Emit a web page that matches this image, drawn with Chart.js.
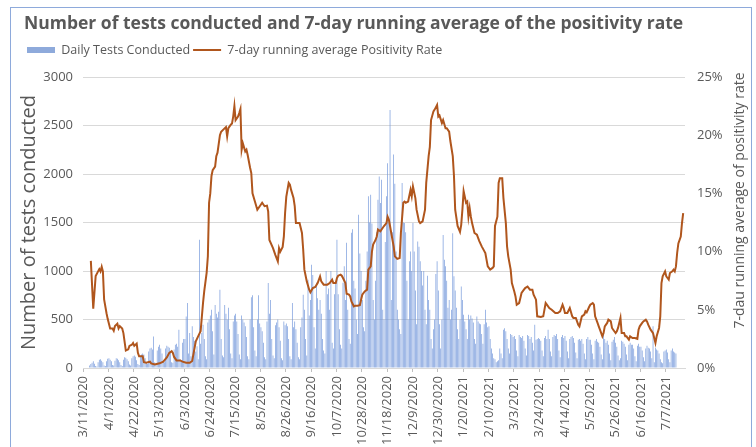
<!DOCTYPE html>
<html><head><meta charset="utf-8">
<script src="https://cdn.jsdelivr.net/npm/chart.js@4.4.1/dist/chart.umd.min.js"></script>
<style>html,body{margin:0;padding:0;background:#fff;}#wrap{width:756px;height:447px;}</style>
</head><body><div id="wrap"><canvas id="c" width="756" height="447"></canvas></div>
<script>
const chartTitle = 'Number of tests conducted and 7-day running average of the positivity rate';
const seriesNames = ['Daily Tests Conducted', '7-day running average Positivity Rate'];
const leftAxisTitle = 'Number of tests conducted';
const rightAxisTitle = '7-dau running average of positivity rate';
const firstDate = [2020, 3, 11];
const dayCount = 499;
const tickLabels = ['3/11/2020','4/1/2020','4/22/2020','5/13/2020','6/3/2020','6/24/2020','7/15/2020','8/5/2020','8/26/2020','9/16/2020','10/7/2020','10/28/2020','11/18/2020','12/9/2020','12/30/2020','1/20/2021','2/10/2021','3/3/2021','3/24/2021','4/14/2021','5/5/2021','5/26/2021','6/16/2021','7/7/2021'];
const leftTicks = [0, 500, 1000, 1500, 2000, 2500, 3000];
const rightTicks = [0, 5, 10, 15, 20, 25];

// daily tests, one row per week (Wed..Tue), starting 3/11/2020
const dailyTests = [
0,0,0,0,0,25,40,
55,70,45,20,15,60,85,
90,75,60,25,20,70,95,
100,85,70,30,25,75,100,
95,80,60,30,20,85,110,
105,90,70,35,25,100,120,
130,115,80,40,30,120,140,
150,140,100,50,40,170,200,
210,190,326,60,50,180,220,
240,200,150,70,60,200,230,
220,210,170,60,55,190,240,
250,220,395,90,70,260,300,
300,532,670,150,360,120,430,
320,280,170,223,90,1323,250,
360,445,300,120,90,470,500,
540,600,380,140,650,560,520,
580,807,300,130,110,650,560,
500,620,400,150,100,480,540,
560,480,350,140,90,540,500,
470,430,320,120,90,500,730,
750,420,180,120,500,750,460,
420,380,260,110,90,480,876,
560,700,300,130,100,440,470,
500,420,280,100,80,480,440,
460,430,300,120,90,670,420,
480,400,260,110,90,420,520,
755,600,300,130,910,540,700,
1065,960,420,200,880,720,600,
700,560,300,180,150,1000,760,
820,600,1000,260,200,760,880,
1323,760,400,240,200,880,1050,
700,1290,600,300,250,1395,1430,
900,820,500,350,1580,1180,1000,
700,420,380,900,1200,1770,1500,
1785,1490,700,500,900,1400,1735,
1975,1700,1940,600,500,1300,1770,
2110,1500,2660,700,1400,2200,1900,
1200,600,500,400,350,1906,1500,
1495,1400,900,500,1100,1200,1000,
1495,1200,800,450,1305,1250,1100,
1000,850,1000,600,450,950,700,
600,300,200,400,500,970,1100,
800,450,200,500,1370,1115,1050,
900,620,700,500,600,1390,945,
800,620,400,300,500,840,700,
550,480,400,300,550,500,540,
510,470,300,250,532,480,460,
450,350,250,450,600,470,420,
430,300,200,150,100,90,60,
70,80,200,150,100,395,410,
380,300,200,150,350,340,320,
330,300,180,120,340,320,310,
330,280,200,130,340,330,300,
320,260,180,445,290,300,310,
300,280,180,120,310,330,300,
395,300,170,120,320,340,330,
350,300,180,110,320,340,310,
330,280,170,100,300,320,330,
310,260,160,100,290,300,280,
300,250,150,90,300,320,290,
290,240,150,90,280,300,270,
260,220,140,90,370,300,260,
280,240,150,80,270,290,320,
260,220,130,80,100,280,270,
250,220,140,80,240,260,240,
240,200,120,70,230,250,220,
220,180,110,70,200,230,210,
200,170,100,430,60,210,190,
180,150,90,60,50,170,180,
190,160,90,60,180,200,170,
160,150
];

// 7-day running average positivity rate (%), read at these day offsets from 3/11/2020
const rateDays = [6,8,10,12,13,14,15,16,17,19,20,22,24,25,26,28,29,30,32,33,35,37,38,40,41,42,44,45,46,49,50,52,55,56,59,63,66,69,71,73,74,75,77,80,82,85,88,90,93,96,97,99,100,102,103,104,105,106,107,109,110,111,113,114,116,118,119,120,122,123,124,125,126,128,129,130,131,132,134,135,136,138,139,140,142,144,146,148,150,152,153,154,157,159,161,162,163,165,166,167,168,170,171,172,174,175,176,179,181,182,183,185,187,188,190,192,194,196,197,199,202,204,206,207,209,210,211,213,214,215,217,218,220,221,222,224,225,227,229,230,231,233,235,236,238,239,240,242,243,244,246,247,249,251,252,253,254,255,257,258,260,262,263,265,266,267,269,271,272,273,275,276,278,279,281,283,284,286,287,288,290,291,293,294,295,297,298,300,301,303,304,306,307,308,310,312,313,314,315,317,318,319,320,321,322,324,326,328,330,333,335,337,339,340,341,343,344,345,347,348,350,351,352,354,355,357,358,359,361,362,363,365,366,368,369,370,372,373,375,376,379,381,383,384,386,388,391,393,395,397,398,399,401,403,405,406,408,410,411,413,415,416,417,419,420,422,423,424,426,427,428,430,431,432,434,435,437,438,439,441,442,443,445,446,448,449,450,452,453,455,457,459,460,461,463,464,466,467,468,470,471,472,474,475,477,478,479,480,482,483,484,485,486,488,489,490,491,492,493,495,496,497];
const rateValues = [9.2,5.1,7.9,8.3,8.5,8.3,8.7,8.3,5.9,4.7,4.2,3.4,3.4,3.2,3.6,3.8,3.4,3.6,3.4,3.0,1.5,1.6,1.9,2.0,2.15,1.9,2.1,1.3,1.0,1.0,0.5,0.45,0.55,0.4,0.3,0.4,0.55,0.9,1.3,1.45,1.3,0.95,0.65,0.65,0.55,0.45,0.45,0.6,2.3,2.95,3.15,5.6,6.6,8.2,9.6,14.2,15.0,16.5,17.0,17.3,18.2,18.5,20.0,20.3,20.5,20.7,19.9,20.6,20.9,21.0,21.6,22.5,21.3,21.6,21.9,22.25,18.75,19.3,18.6,18.75,18.3,17.2,16.75,15.0,14.3,13.6,13.9,14.2,13.9,13.95,13.45,11.0,10.3,9.7,9.16,10.3,10.0,10.4,11.3,13.3,14.7,15.9,15.75,15.3,14.6,13.9,12.45,12.45,11.6,10.2,8.45,7.44,6.73,6.5,6.87,6.96,7.3,7.87,7.44,7.16,7.16,7.3,7.59,7.3,7.3,7.73,7.93,8.02,7.93,7.73,7.3,6.38,6.3,6.15,5.72,5.3,5.35,5.35,5.4,5.87,6.3,6.58,6.73,8.45,8.73,10.0,10.6,11.0,11.3,11.9,11.74,11.9,12.2,12.45,13.0,12.75,12.2,11.6,10.45,9.59,9.37,9.45,11.6,14.2,14.3,14.2,14.3,15.3,14.75,15.6,14.6,13.6,12.6,12.45,12.6,13.6,15.9,18.2,19.0,21.3,22.05,22.2,22.6,21.6,21.7,21.05,21.3,20.6,20.6,20.3,19.5,18.2,16.5,13.6,12.2,11.7,12.3,13.6,15.2,14.2,14.3,13.0,13.75,13.0,12.45,11.6,11.45,10.9,10.45,9.88,8.73,8.45,8.6,8.73,12.2,13.0,15.9,16.3,16.3,14.6,12.45,10.45,9.59,8.45,7.3,6.58,6.15,5.44,5.58,6.0,6.44,6.73,6.87,7.0,6.87,6.73,6.73,6.3,5.87,4.44,4.38,4.44,5.58,5.44,5.15,5.0,4.72,4.72,4.87,5.44,5.15,4.72,4.72,5.15,4.44,4.3,4.3,3.72,3.58,4.44,4.58,4.87,4.78,5.24,5.44,5.58,5.44,4.44,3.87,3.58,3.29,2.72,3.0,3.58,3.87,4.15,4.0,3.44,3.29,3.0,3.15,3.44,4.3,3.0,3.0,2.72,2.72,2.43,2.72,2.58,2.58,2.5,3.29,3.58,3.87,4.0,4.15,4.0,3.72,3.29,3.15,3.0,2.15,2.72,3.44,4.44,7.3,7.87,8.3,7.87,7.73,7.59,8.16,8.3,8.45,8.3,8.73,9.88,10.7,11.3,12.45,13.3];

const barColor = '#6f94d9';
const legendBarColor = '#8eaadb';
const lineColor = '#b0561d';
const textColor = '#595959';
const gridColor = '#d9d9d9';
const fontFamily = "'Open Sans', sans-serif";

const categories = [];
for (let i = 0; i < dayCount; i++) {
  const dt = new Date(firstDate[0], firstDate[1] - 1, firstDate[2] + i);
  categories.push((dt.getMonth() + 1) + '/' + dt.getDate() + '/' + dt.getFullYear());
}
const isTickDay = i => tickLabels.includes(categories[i]);

const framePlugin = {
  id: 'frame',
  beforeDraw(chart) {
    const ctx = chart.ctx;
    ctx.save();
    ctx.fillStyle = '#ffffff';
    ctx.fillRect(0, 0, chart.width, chart.height);
    ctx.strokeStyle = '#8eaadb';
    ctx.lineWidth = 1;
    ctx.strokeRect(10.5, 7.5, 741, 450);
    ctx.restore();
  }
};
const rightTitlePlugin = {
  id: 'rightTitle',
  afterDraw(chart) {
    const ctx = chart.ctx;
    const a = chart.chartArea;
    ctx.save();
    ctx.translate(740, (a.top + a.bottom) / 2 - 22);
    ctx.rotate(-Math.PI / 2);
    ctx.font = "14px 'Open Sans'";
    ctx.fillStyle = textColor;
    ctx.textAlign = 'center';
    ctx.textBaseline = 'middle';
    ctx.fillText(rightAxisTitle, 0, 0);
    ctx.restore();
  }
};

new Chart(document.getElementById('c'), {
  type: 'bar',
  data: {
    labels: categories,
    datasets: [
      { type: 'bar', label: seriesNames[0], data: dailyTests, backgroundColor: barColor,
        yAxisID: 'y', xAxisID: 'x', barPercentage: 0.55, categoryPercentage: 1, order: 2 },
      { type: 'line', label: seriesNames[1],
        data: rateDays.map((d, i) => ({ x: categories[d], y: rateValues[i] })),
        borderColor: lineColor, borderWidth: 2, pointRadius: 0, tension: 0,
        fill: false, yAxisID: 'y1', xAxisID: 'x', order: 1 }
    ]
  },
  options: {
    responsive: false, animation: false, devicePixelRatio: 1,
    layout: { padding: { left: 24, right: 10, top: 4, bottom: 0 } },
    plugins: {
      title: { display: true, text: chartTitle, align: 'start', color: textColor,
        font: { family: fontFamily, size: 17.5, weight: 'bold' }, padding: { top: 9.5, bottom: 6.25 } },
      legend: { display: true, position: 'top', align: 'start',
        labels: { usePointStyle: true, pointStyleWidth: 28, boxHeight: 6, padding: 3,
          color: textColor, font: { family: fontFamily, size: 12.5 },
          generateLabels: () => [
            { text: seriesNames[0], fillStyle: legendBarColor, strokeStyle: legendBarColor, lineWidth: 0, pointStyle: 'rect', hidden: false, datasetIndex: 0, fontColor: textColor },
            { text: seriesNames[1], fillStyle: lineColor, strokeStyle: lineColor, lineWidth: 2, pointStyle: 'line', hidden: false, datasetIndex: 1, fontColor: textColor }
          ] } },
      tooltip: { enabled: false }
    },
    scales: {
      x: {
        type: 'category', offset: true, position: 'bottom',
        grid: { display: true, drawOnChartArea: false, drawTicks: true, tickLength: 4, offset: true,
          color: c => isTickDay(c.index) ? '#bfbfbf' : 'rgba(0,0,0,0)',
          tickColor: c => isTickDay(c.index) ? '#bfbfbf' : 'rgba(0,0,0,0)' },
        border: { display: true, color: gridColor },
        ticks: { autoSkip: false, maxRotation: 90, minRotation: 90, padding: 4, color: textColor,
          font: { family: fontFamily, size: 13 },
          callback: function (v) { const l = categories[v]; return tickLabels.includes(l) ? l : ''; } },
        afterFit: s => { s.height = 79; }
      },
      xTop: {
        type: 'category', position: 'top', display: true,
        grid: { display: false, drawTicks: false }, border: { display: false },
        ticks: { display: false },
        afterFit: s => { s.height = 10.75; }
      },
      y: {
        type: 'linear', position: 'left', min: 0, max: 3000,
        afterBuildTicks: s => { s.ticks = leftTicks.map(v => ({ value: v })); },
        ticks: { color: textColor, font: { family: fontFamily, size: 13 }, padding: 10,
          callback: v => String(v) },
        grid: { color: gridColor, drawTicks: false },
        border: { display: false },
        title: { display: true, text: leftAxisTitle, color: textColor,
          font: { family: fontFamily, size: 20 }, padding: { top: -7, bottom: 0 } },
        afterFit: s => { s.width = 59; }
      },
      y1: {
        type: 'linear', position: 'right', min: 0, max: 25,
        afterBuildTicks: s => { s.ticks = rightTicks.map(v => ({ value: v })); },
        ticks: { color: textColor, font: { family: fontFamily, size: 13 }, padding: 12,
          callback: v => v + '%' },
        grid: { drawOnChartArea: false, drawTicks: false },
        border: { display: false },
        afterFit: s => { s.width = 61; }
      }
    }
  },
  plugins: [framePlugin, rightTitlePlugin]
});
</script>
</body></html>
